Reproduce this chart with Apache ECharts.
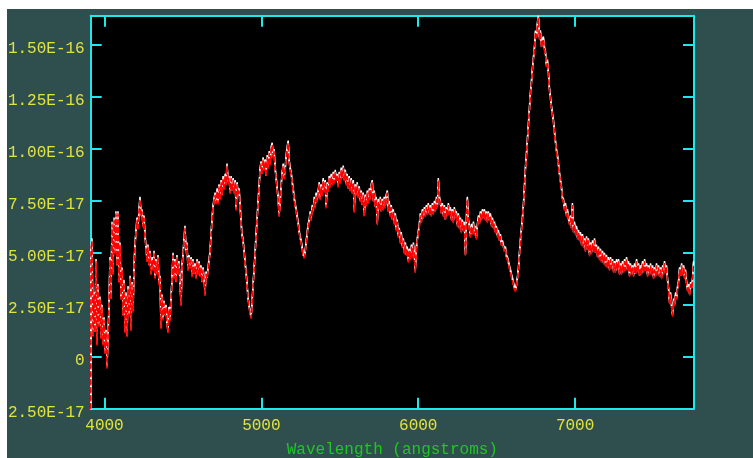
<!DOCTYPE html>
<html>
<head>
<meta charset="utf-8">
<script src="https://cdn.jsdelivr.net/npm/echarts@6/dist/echarts.min.js"></script>
<style>
  html, body { margin: 0; padding: 0; background: #ffffff; width: 753px; height: 458px; overflow: hidden; }
  #panel { position: absolute; left: 7px; top: 9px; width: 746px; height: 449px; background: #2f4f4f; overflow: hidden; }
  #chart { width: 746px; height: 449px; }
</style>
</head>
<body>
<div id="panel"><div id="chart"></div></div>
<script>
// Spectrum samples: wavelength in angstroms, flux in units of 1e-17
const wavelength = [
  3912,
  3914,3920,3927,3933,3939,3946,3952,3958,3965,3971,
  3978,3984,3990,3997,4003,4010,4016,4022,4029,4035,
  4041,4048,4054,4061,4067,4073,4080,4086,4092,4099,
  4105,4112,4118,4124,4131,4137,4144,4150,4156,4163,
  4169,4175,4182,4188,4194,4201,4207,4214,4220,4226,
  4233,4239,4245,4252,4258,4265,4271,4277,4284,4290,
  4296,4303,4309,4316,4322,4328,4335,4341,4347,4354,
  4360,4367,4373,4379,4386,4392,4398,4405,4411,4418,
  4424,4430,4437,4443,4449,4456,4462,4469,4475,4481,
  4488,4494,4501,4507,4513,4520,4526,4532,4539,4545,
  4552,4558,4564,4571,4577,4583,4590,4596,4603,4609,
  4615,4622,4628,4635,4641,4647,4654,4660,4666,4673,
  4679,4686,4692,4698,4705,4711,4718,4724,4730,4737,
  4743,4749,4756,4762,4769,4775,4781,4788,4794,4801,
  4807,4813,4820,4826,4833,4839,4845,4852,4858,4864,
  4871,4877,4883,4890,4896,4903,4909,4915,4922,4928,
  4935,4941,4947,4954,4960,4966,4973,4979,4986,4992,
  4998,5005,5011,5018,5024,5030,5037,5043,5050,5056,
  5062,5069,5075,5081,5088,5094,5101,5107,5113,5120,
  5126,5133,5139,5145,5152,5158,5164,5171,5177,5184,
  5190,5196,5203,5209,5215,5222,5228,5235,5241,5247,
  5254,5260,5266,5273,5279,5286,5292,5298,5305,5311,
  5317,5324,5330,5337,5343,5349,5356,5362,5369,5375,
  5381,5388,5394,5400,5407,5413,5420,5426,5432,5439,
  5445,5452,5458,5464,5471,5477,5483,5490,5496,5503,
  5509,5515,5522,5528,5535,5541,5547,5554,5560,5566,
  5573,5579,5586,5592,5598,5605,5611,5617,5624,5630,
  5637,5643,5649,5656,5662,5669,5675,5681,5688,5694,
  5700,5707,5713,5720,5726,5732,5739,5745,5752,5758,
  5764,5771,5777,5783,5790,5796,5803,5809,5815,5822,
  5828,5835,5841,5847,5854,5860,5866,5873,5879,5886,
  5892,5898,5905,5911,5918,5924,5930,5937,5943,5949,
  5956,5962,5969,5975,5981,5988,5994,6001,6007,6013,
  6020,6026,6032,6039,6045,6052,6058,6064,6071,6077,
  6083,6090,6096,6103,6109,6116,6122,6128,6135,6141,
  6147,6154,6160,6167,6173,6179,6186,6192,6198,6205,
  6211,6218,6224,6230,6237,6243,6250,6256,6262,6269,
  6275,6281,6288,6294,6301,6307,6313,6320,6326,6332,
  6339,6345,6352,6358,6364,6371,6377,6384,6390,6396,
  6403,6409,6415,6422,6428,6435,6441,6447,6454,6460,
  6467,6473,6479,6486,6492,6498,6505,6511,6518,6524,
  6530,6537,6543,6549,6556,6562,6569,6575,6581,6588,
  6594,6601,6607,6613,6620,6626,6633,6639,6645,6652,
  6658,6664,6671,6677,6684,6690,6696,6703,6709,6715,
  6722,6728,6734,6741,6747,6754,6760,6766,6773,6779,
  6786,6792,6798,6805,6811,6817,6824,6830,6836,6843,
  6849,6856,6862,6868,6875,6881,6888,6894,6900,6907,
  6913,6919,6926,6932,6939,6945,6951,6958,6964,6971,
  6977,6983,6990,6996,7003,7009,7015,7022,7028,7034,
  7041,7047,7054,7060,7066,7073,7079,7085,7092,7098,
  7105,7111,7117,7124,7130,7136,7143,7149,7156,7162,
  7168,7175,7181,7187,7194,7200,7207,7213,7219,7226,
  7232,7239,7245,7251,7258,7264,7270,7277,7283,7290,
  7296,7302,7309,7315,7322,7328,7334,7341,7347,7353,
  7360,7366,7373,7379,7385,7392,7398,7405,7411,7417,
  7424,7430,7436,7443,7449,7456,7462,7468,7475,7481,
  7487,7494,7500,7507,7513,7519,7526,7532,7538,7545,
  7551,7558,7564,7570,7577,7583,7590,7596,7602,7609,
  7615,7621,7628,7634,7641,7647,7653,7660,7666,7673,
  7679,7685,7692,7698,7704,7711,7717,7724,7730,7736,
  7743,7749,7755
];

const flux = [
  -4.0,
  5.2,5.6,1.0,3.0,1.2,4.6,0.6,3.4,1.5,2.8,
  0.9,2.4,0.6,1.8,0.2,1.2,-0.5,0.8,2.5,4.7,
  2.8,6.4,4.0,6.6,5.0,6.9,4.4,6.9,3.6,5.4,
  2.8,4.2,2.0,3.6,1.2,3.0,1.0,3.3,2.0,3.8,
  1.3,3.5,2.2,4.2,5.3,6.0,6.6,6.2,7.0,7.6,
  6.8,7.0,6.3,6.7,5.8,5.2,4.6,5.3,4.4,5.0,
  4.0,4.7,4.2,5.0,3.8,4.6,4.0,4.8,3.5,3.8,
  1.4,2.9,1.8,2.6,2.0,2.4,1.6,1.2,2.3,1.8,
  2.8,3.6,4.9,3.8,4.6,3.6,4.8,4.0,4.5,3.6,
  2.5,4.3,4.9,5.6,6.2,5.0,5.4,4.2,4.8,4.3,
  4.7,3.9,4.6,4.0,4.4,3.8,4.6,4.0,4.5,3.9,
  4.3,3.6,4.2,3.7,3.0,4.0,3.8,4.2,4.6,5.0,
  5.8,6.6,7.2,7.5,7.8,7.4,8.0,7.4,8.2,7.6,
  8.4,7.8,8.6,8.1,8.7,8.3,9.2,8.4,8.6,7.9,
  8.6,8.0,8.5,7.9,8.4,7.1,8.3,7.8,8.0,7.3,
  6.4,5.8,5.6,5.0,4.5,4.0,3.4,2.8,2.4,2.1,
  1.9,2.6,3.4,4.2,4.9,5.8,6.6,7.4,8.2,9.0,
  9.3,8.8,9.5,9.0,9.4,8.7,9.6,9.1,9.8,9.3,
  10.0,10.2,9.6,9.9,9.0,8.6,8.0,7.6,6.8,7.4,
  8.2,8.8,9.2,8.6,9.0,9.6,10.0,10.3,9.4,9.0,
  8.8,8.4,8.0,7.6,7.3,7.0,6.7,6.4,6.0,5.7,
  5.5,5.2,4.9,4.8,5.0,5.5,5.9,6.3,6.5,6.9,
  6.6,7.2,7.0,7.6,7.2,7.8,7.5,7.9,8.3,7.6,
  8.2,7.8,8.5,8.0,8.4,7.2,8.3,8.0,8.6,8.2,
  8.7,8.3,8.8,8.4,8.9,8.5,8.7,8.2,8.8,8.4,
  9.0,8.6,9.1,8.5,8.9,8.3,8.7,8.1,8.6,8.0,
  8.5,7.9,8.4,7.0,8.2,7.8,8.3,7.7,8.1,7.5,
  7.9,7.3,7.8,6.8,7.7,7.3,7.9,7.4,8.0,7.6,
  8.2,8.4,7.5,7.9,7.2,7.6,6.4,7.5,7.1,7.6,
  7.0,7.5,7.1,7.6,7.2,7.7,7.9,7.0,7.4,6.8,
  7.2,6.6,7.0,6.4,6.8,6.1,6.5,5.8,6.1,5.5,
  5.9,5.3,5.6,5.0,5.4,4.9,5.2,4.6,5.1,4.7,
  5.3,4.8,5.4,4.9,4.1,5.2,5.6,6.0,6.3,6.8,
  6.5,7.0,6.7,7.1,6.8,7.2,6.9,7.3,6.9,7.2,
  6.8,7.3,6.9,7.4,7.0,7.6,7.2,8.5,7.6,7.4,
  6.9,7.3,6.8,7.2,6.6,7.1,6.8,7.3,6.9,7.1,
  6.6,7.0,6.5,7.1,6.7,6.9,6.3,6.8,6.2,6.6,
  6.0,6.5,6.1,6.4,4.9,6.6,7.6,6.5,6.2,5.8,
  6.3,5.9,6.4,5.9,6.2,5.7,6.3,6.7,6.4,6.9,
  6.6,7.0,6.7,7.0,6.6,6.9,6.5,6.9,6.6,6.8,
  6.3,6.6,6.2,6.4,6.0,6.2,5.8,6.0,5.6,5.8,
  5.4,5.5,5.3,5.1,5.2,4.8,4.7,4.5,4.3,4.1,
  3.9,3.7,3.5,3.3,3.2,3.4,3.8,4.2,4.9,5.6,
  6.1,6.6,7.3,8.1,9.1,9.7,10.4,11.2,11.9,12.6,
  13.2,13.8,14.3,14.8,15.6,15.4,16.0,16.3,15.3,15.6,
  14.9,15.2,15.3,14.8,14.6,14.0,14.2,13.6,12.9,12.4,
  12.0,11.6,11.3,10.8,10.3,9.9,9.6,9.2,8.8,8.4,
  8.1,7.6,7.5,7.1,7.3,6.8,7.0,6.6,6.4,6.7,
  6.2,7.3,6.0,6.4,5.9,6.2,5.7,6.0,5.6,5.9,
  5.4,5.8,5.3,5.6,5.1,5.7,5.2,5.6,4.9,5.4,
  5.0,5.5,5.1,5.6,5.0,5.3,4.8,5.2,4.7,5.1,
  4.6,5.0,4.5,4.9,4.4,4.8,4.3,4.7,4.2,4.7,
  4.3,4.6,4.1,4.5,4.1,4.6,4.2,4.6,4.0,4.4,
  4.0,4.5,4.1,4.6,4.2,4.7,4.2,4.5,3.9,4.4,
  4.0,4.3,3.9,4.4,4.0,4.6,4.1,4.4,3.9,4.3,
  4.0,4.5,4.1,4.6,4.2,4.4,3.9,4.3,4.0,4.4,
  4.0,4.3,3.8,4.2,3.9,4.4,4.0,4.3,3.9,4.2,
  3.8,4.3,4.0,4.5,4.1,4.3,3.6,3.2,2.6,3.0,
  2.4,2.0,2.7,2.5,3.0,2.8,3.3,3.6,4.2,3.9,
  4.4,4.0,4.3,3.8,4.1,3.5,3.2,3.4,3.0,3.5,
  3.3,3.7,4.5
];

// Axis ranges and tick labels
const xRange = [3912, 7758];
const xTickLabels = [4000, 5000, 6000, 7000];
const yRange = [-2.5, 16.4];
const yTickValues = [-2.5, 0, 2.5, 5, 7.5, 10, 12.5, 15];

const CYAN = '#1fe8e8';
const YELLOW = '#e2e23c';
const GREEN = '#1ec81e';
const MONO = '"Liberation Mono", "DejaVu Sans Mono", monospace';

const points = wavelength.map((w, i) => [w, flux[i]]);

const frameLine = { show: true, onZero: false, lineStyle: { color: CYAN, width: 2 } };
const frameTick = { show: true, inside: true, length: 11, lineStyle: { color: CYAN, width: 2 } };

function xLabel(v) {
  return xTickLabels.indexOf(v) >= 0 ? String(v) : '';
}
function yLabel(v) {
  const hit = yTickValues.some(t => Math.abs(t - v) < 1e-9);
  if (!hit) return '';
  if (Math.abs(v) < 1e-9) return '0';
  return (v * 1e-17).toExponential(2).toUpperCase();
}

const chart = echarts.init(document.getElementById('chart'), null, { renderer: 'canvas' });
chart.setOption({
  animation: false,
  backgroundColor: 'transparent',
  grid: {
    left: 83.7, top: 6.8, right: 59, bottom: 49.3,
    containLabel: false, outerBoundsMode: 'none',
    show: true, backgroundColor: '#000000', borderWidth: 0
  },
  xAxis: [
    {
      type: 'value', position: 'bottom', min: xRange[0], max: xRange[1], splitNumber: 4,
      axisLine: frameLine, axisTick: frameTick, splitLine: { show: false },
      axisLabel: { color: YELLOW, fontFamily: MONO, fontSize: 16, margin: 9, formatter: xLabel },
      name: 'Wavelength (angstroms)', nameLocation: 'middle', nameGap: 33,
      nameTextStyle: { color: GREEN, fontFamily: MONO, fontSize: 16 }
    },
    {
      type: 'value', position: 'top', min: xRange[0], max: xRange[1], splitNumber: 4,
      axisLine: frameLine, axisTick: frameTick, splitLine: { show: false },
      axisLabel: { show: false }
    }
  ],
  yAxis: [
    {
      type: 'value', position: 'left', min: yRange[0], max: yRange[1], interval: 2.5,
      axisLine: frameLine, axisTick: frameTick, splitLine: { show: false },
      axisLabel: {
        color: YELLOW, fontFamily: MONO, fontSize: 16, margin: 6,
        verticalAlign: 'top', lineHeight: 8, formatter: yLabel
      }
    },
    {
      type: 'value', position: 'right', min: yRange[0], max: yRange[1], interval: 2.5,
      axisLine: frameLine, axisTick: frameTick, splitLine: { show: false },
      axisLabel: { show: false }
    }
  ],
  series: [
    {
      // white trace, with a copy lifted slightly above it
      type: 'line', data: points, xAxisIndex: 0, yAxisIndex: 0,
      symbol: 'none', showSymbol: false, silent: true, clip: true,
      lineStyle: { color: '#ffffff', width: 1.5, shadowColor: '#ffffff', shadowBlur: 0, shadowOffsetY: -2 }
    },
    {
      // red trace drawn over it, thickened downward
      type: 'line', data: points, xAxisIndex: 0, yAxisIndex: 0,
      symbol: 'none', showSymbol: false, silent: true, clip: true,
      lineStyle: { color: '#ff0000', width: 1.4, type: [5, 3], shadowColor: '#ff0000', shadowBlur: 0, shadowOffsetY: 1.5 }
    }
  ]
});
</script>
</body>
</html>
